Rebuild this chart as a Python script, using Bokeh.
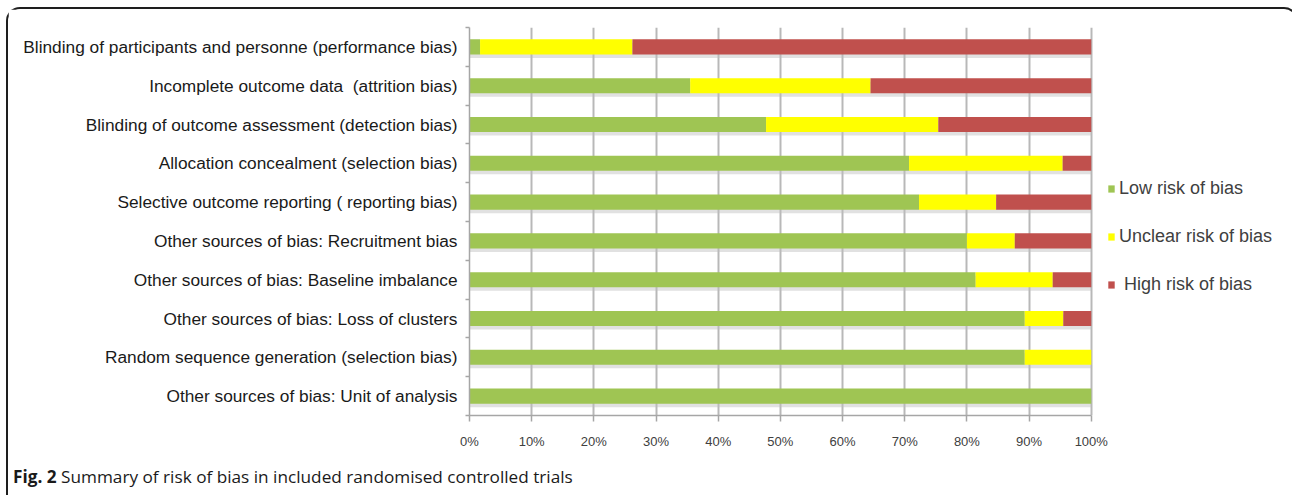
from bokeh.plotting import figure
from bokeh.models import Range1d, FixedTicker, Legend, LegendItem, ColumnDataSource, Div
from bokeh.layouts import column
from bokeh.embed import file_html
from bokeh.resources import INLINE

categories = [
    "Blinding of participants and personne (performance bias)",
    "Incomplete outcome data\u00a0 (attrition bias)",
    "Blinding of outcome assessment (detection bias)",
    "Allocation concealment (selection bias)",
    "Selective outcome reporting ( reporting bias)",
    "Other sources of bias: Recruitment bias",
    "Other sources of bias: Baseline imbalance",
    "Other sources of bias: Loss of clusters",
    "Random sequence generation (selection bias)",
    "Other sources of bias: Unit of analysis",
]
low = [1.7, 35.5, 47.7, 70.7, 72.3, 80.0, 81.4, 89.3, 89.3, 100.0]
unclear = [24.5, 29.0, 27.7, 24.7, 12.4, 7.7, 12.4, 6.2, 10.7, 0.0]
high = [73.8, 35.5, 24.6, 4.6, 15.3, 12.3, 6.2, 4.5, 0.0, 0.0]
series_names = ["Low risk of bias", "Unclear risk of bias", " High risk of bias"]
series_colors = ["#9FC553", "#FFFF00", "#C0504D"]
x_ticks = [0, 10, 20, 30, 40, 50, 60, 70, 80, 90, 100]
x_tick_labels = ["0%", "10%", "20%", "30%", "40%", "50%", "60%", "70%", "80%", "90%", "100%"]
caption_bold = "Fig. 2"
caption_text = "Summary of risk of bias in included randomised controlled trials"

ypos = list(range(len(categories)))
total = [a + b + c for a, b, c in zip(low, unclear, high)]
source = ColumnDataSource(dict(y=ypos, low=low, unclear=unclear, high=high, total=total,
                               shadow_y=[v + 0.09 for v in ypos]))

LABEL_FONT = "Liberation Sans"

# frame spans to the right edge so the legend can sit inside it; 0-100% occupies 621 px of 816 px
p = figure(width=1278, height=450,
           x_range=Range1d(0, 100 * 816 / 621), y_range=Range1d(len(categories) - 0.5, -0.5),
           output_backend="svg", toolbar_location=None,
           min_border_left=461, min_border_right=0, min_border_top=18, min_border_bottom=44)
p.outline_line_color = None
p.background_fill_color = "white"
p.border_fill_color = "white"

# soft shadow under bars
p.hbar(y="shadow_y", left=0, right="total", height=0.39, source=source,
       fill_color="#bdbdbd", fill_alpha=0.45, line_color=None)

renderers = p.hbar_stack(["low", "unclear", "high"], y="y", height=0.39, source=source,
                         color=series_colors, line_color=None)

# x axis
p.xaxis.ticker = FixedTicker(ticks=x_ticks)
p.xaxis.bounds = (x_ticks[0], x_ticks[-1])
p.xaxis.major_label_overrides = {t: l for t, l in zip(x_ticks, x_tick_labels)}
p.xaxis.axis_line_color = "#a6a6a6"
p.xaxis.axis_line_width = 1.5
p.xaxis.major_tick_line_color = "#a6a6a6"
p.xaxis.major_tick_line_width = 1.5
p.xaxis.major_tick_in = 0
p.xaxis.major_tick_out = 6
p.xaxis.minor_tick_line_color = None
p.xaxis.major_label_text_font = LABEL_FONT
p.xaxis.major_label_text_font_size = "13px"
p.xaxis.major_label_text_color = "#404040"
p.xaxis.major_label_standoff = 12

# y axis
p.yaxis.ticker = FixedTicker(ticks=ypos, minor_ticks=[v - 0.5 for v in range(len(categories) + 1)])
p.yaxis.major_label_overrides = {i: c for i, c in zip(ypos, categories)}
p.yaxis.axis_line_color = "#a6a6a6"
p.yaxis.axis_line_width = 1.5
p.yaxis.major_tick_line_color = None
p.yaxis.major_tick_in = 0
p.yaxis.major_tick_out = 0
p.yaxis.minor_tick_line_color = "#a6a6a6"
p.yaxis.minor_tick_line_width = 1.5
p.yaxis.minor_tick_in = 0
p.yaxis.minor_tick_out = 4
p.yaxis.major_label_text_font = LABEL_FONT
p.yaxis.major_label_text_font_size = "17.3px"
p.yaxis.major_label_text_color = "#1a1a1a"
p.yaxis.major_label_standoff = 8

p.xgrid.grid_line_color = "#b8b8b8"
p.xgrid.grid_line_width = 2
p.ygrid.grid_line_color = None

legend = Legend(items=[LegendItem(label=n, renderers=[r]) for n, r in zip(series_names, renderers)],
                location=(638, 120), orientation="vertical", margin=0,
                glyph_width=8, glyph_height=9, label_standoff=4, spacing=27, padding=10,
                border_line_color=None, background_fill_alpha=0)
legend.label_text_font = LABEL_FONT
legend.label_text_font_size = "18px"
legend.label_text_color = "#404040"
p.add_layout(legend)

caption = Div(text=f"<b>{caption_bold}</b> {caption_text}", width=1278, height=33,
              styles={"font-family": "Open Sans", "font-size": "17.2px", "color": "#1a1a1a",
                      "padding-left": "0px", "padding-top": "1px"})

layout = column(p, caption, spacing=0, margin=(7, 0, 0, 6),
                styles={"border-top": "2.5px solid #1e1e1e", "border-left": "2.5px solid #1e1e1e",
                        "border-right": "2.5px solid #1e1e1e", "border-top-left-radius": "14px",
                        "border-top-right-radius": "14px"})

open("out.html", "w").write(file_html(layout, INLINE))
